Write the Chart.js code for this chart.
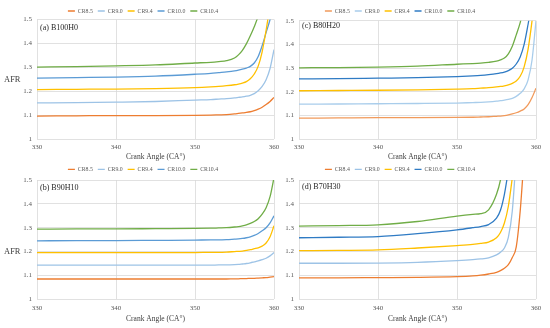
<!DOCTYPE html>
<html lang="en">
<head>
<meta charset="UTF-8">
<title>AFR vs Crank Angle</title>
<script src="https://cdn.jsdelivr.net/npm/chart.js"></script>
<style>
  body { margin: 0; background: #fff; }
  #wrap { position: relative; width: 550px; height: 328px; overflow: hidden; font-family: 'Liberation Serif', serif; }
  .panel { position: absolute; }
  .afr { position: absolute; left: 4px; font-size: 8.5px; color: #404040; line-height: 1; }
</style>
</head>
<body>
<div id="wrap">
  <canvas id="chartA" class="panel" style="left:12px;top:0" width="274" height="164"></canvas>
  <canvas id="chartB" class="panel" style="left:12px;top:160px" width="274" height="168"></canvas>
  <canvas id="chartC" class="panel" style="left:264px;top:0" width="286" height="164"></canvas>
  <canvas id="chartD" class="panel" style="left:264px;top:160px" width="286" height="168"></canvas>
  <span class="afr" style="top:75px">AFR</span>
  <span class="afr" style="top:247px">AFR</span>
</div>

<script>
  // crank angle samples (CA°), shared by every curve
  const angles = [330, 335, 340, 345, 350, 352, 353, 354, 355, 355.5, 356, 356.5, 357, 357.5, 358, 358.5, 359, 359.5, 360];
  const xTicks = [330, 340, 350, 360];
  const yTickLabels = ['1', '1.1', '1.2', '1.3', '1.4', '1.5'];

  const namesABC = ['CR8.5', 'CR9.0', 'CR9.4', 'CR10.0', 'CR10.4'];
  const namesD = ['CR8.4', 'CR9.0', 'CR9.4', 'CR10.0', 'CR10.4'];

  // (a) B100H0
  const a85 = [1.096, 1.097, 1.098, 1.098, 1.099, 1.100, 1.101, 1.102, 1.105, 1.107, 1.109, 1.111, 1.114, 1.119, 1.125, 1.133, 1.144, 1.157, 1.174];
  const a90 = [1.151, 1.152, 1.154, 1.157, 1.163, 1.165, 1.167, 1.169, 1.172, 1.174, 1.176, 1.179, 1.183, 1.190, 1.202, 1.220, 1.248, 1.295, 1.374];
  const a94 = [1.207, 1.208, 1.209, 1.211, 1.215, 1.218, 1.220, 1.223, 1.227, 1.230, 1.234, 1.240, 1.252, 1.272, 1.305, 1.365, 1.455, 1.560, null];
  const a100 = [1.255, 1.257, 1.259, 1.263, 1.271, 1.275, 1.278, 1.281, 1.285, 1.288, 1.292, 1.297, 1.304, 1.318, 1.345, 1.390, 1.445, 1.500, 1.570];
  const a104 = [1.301, 1.303, 1.306, 1.310, 1.318, 1.321, 1.324, 1.328, 1.339, 1.352, 1.371, 1.398, 1.432, 1.470, 1.515, 1.580, null, null, null];

  // (b) B90H10
  const b85 = [1.085, 1.085, 1.085, 1.085, 1.085, 1.085, 1.085, 1.085, 1.086, 1.086, 1.087, 1.087, 1.088, 1.088, 1.089, 1.090, 1.091, 1.093, 1.095];
  const b90 = [1.143, 1.143, 1.143, 1.143, 1.143, 1.143, 1.144, 1.144, 1.145, 1.146, 1.148, 1.150, 1.153, 1.157, 1.161, 1.166, 1.172, 1.182, 1.196];
  const b94 = [1.196, 1.196, 1.196, 1.196, 1.196, 1.197, 1.197, 1.198, 1.200, 1.201, 1.202, 1.205, 1.208, 1.212, 1.216, 1.223, 1.236, 1.262, 1.308];
  const b100 = [1.245, 1.246, 1.246, 1.247, 1.248, 1.249, 1.249, 1.250, 1.252, 1.253, 1.255, 1.258, 1.262, 1.268, 1.276, 1.287, 1.300, 1.320, 1.350];
  const b104 = [1.294, 1.295, 1.295, 1.296, 1.297, 1.298, 1.299, 1.300, 1.303, 1.305, 1.308, 1.312, 1.318, 1.326, 1.338, 1.357, 1.384, 1.430, 1.510];

  // (c) B80H20
  const c85 = [1.088, 1.089, 1.090, 1.090, 1.091, 1.092, 1.093, 1.094, 1.096, 1.097, 1.099, 1.102, 1.106, 1.111, 1.118, 1.127, 1.145, 1.175, 1.215];
  const c90 = [1.147, 1.148, 1.149, 1.150, 1.152, 1.154, 1.155, 1.157, 1.160, 1.162, 1.164, 1.167, 1.172, 1.180, 1.193, 1.212, 1.250, 1.334, 1.500];
  const c94 = [1.204, 1.205, 1.206, 1.208, 1.211, 1.213, 1.215, 1.217, 1.220, 1.222, 1.225, 1.229, 1.235, 1.245, 1.265, 1.305, 1.380, 1.500, 1.650];
  const c100 = [1.254, 1.255, 1.257, 1.259, 1.264, 1.267, 1.269, 1.272, 1.276, 1.279, 1.283, 1.289, 1.299, 1.317, 1.347, 1.400, 1.485, 1.580, null];
  const c104 = [1.301, 1.302, 1.304, 1.308, 1.316, 1.319, 1.321, 1.324, 1.329, 1.334, 1.342, 1.360, 1.392, 1.440, 1.492, 1.560, null, null, null];

  // (d) B70H30
  const d84 = [1.090, 1.090, 1.091, 1.092, 1.095, 1.098, 1.101, 1.106, 1.113, 1.120, 1.130, 1.145, 1.175, 1.220, 1.370, 1.600, null, null, null];
  const d90 = [1.151, 1.151, 1.152, 1.155, 1.162, 1.166, 1.169, 1.174, 1.186, 1.197, 1.215, 1.260, 1.370, 1.600, null, null, null, null, null];
  const d94 = [1.204, 1.205, 1.207, 1.215, 1.225, 1.230, 1.234, 1.240, 1.258, 1.280, 1.320, 1.390, 1.510, 1.650, null, null, null, null, null];
  const d100 = [1.258, 1.260, 1.263, 1.275, 1.291, 1.300, 1.305, 1.313, 1.340, 1.373, 1.440, 1.540, null, null, null, null, null, null, null];
  const d104 = [1.307, 1.309, 1.312, 1.326, 1.349, 1.356, 1.359, 1.375, 1.440, 1.500, 1.600, null, null, null, null, null, null, null, null];

  const colorsAB = ['#ED7D31', '#9DC3E6', '#FFC000', '#5B9BD5', '#70AD47'];
  const colorsC = ['#F19A5B', '#A9CDEB', '#FFC000', '#2F7BC4', '#70AD47'];
  const colorsD = ['#ED7D31', '#9DC3E6', '#FFC000', '#2F7BC4', '#70AD47'];

  const serif = "'Liberation Serif', 'Times New Roman', serif";

  // writes "(a) B100H0" etc. in the top-left corner of the plot
  const panelLabel = {
    id: 'panelLabel',
    afterDatasetsDraw(chart, args, opts) {
      const { ctx, chartArea } = chart;
      ctx.save();
      ctx.font = '8px ' + serif;
      ctx.fillStyle = '#262626';
      ctx.textBaseline = 'middle';
      ctx.fillText(opts.text, chartArea.left + 3, chartArea.top + opts.dy);
      ctx.restore();
    }
  };

  function makeChart(id, p) {
    const datasets = p.series.map((vals, i) => ({
      label: p.names[i],
      data: angles.map((a, k) => ({ x: a, y: vals[k] })),
      borderColor: p.colors[i],
      backgroundColor: p.colors[i],
      borderWidth: 1.3,
      pointRadius: 0,
      cubicInterpolationMode: 'monotone',
      spanGaps: false
    }));

    new Chart(document.getElementById(id), {
      type: 'line',
      data: { datasets: datasets },
      plugins: [panelLabel],
      options: {
        responsive: false,
        animation: false,
        devicePixelRatio: 1,
        layout: { padding: { top: p.padTop, right: p.padRight, left: 0, bottom: 0 } },
        plugins: {
          tooltip: { enabled: false },
          panelLabel: { text: p.label, dy: p.labelDy },
          legend: {
            position: 'top',
            maxHeight: p.legendH,
            labels: {
              usePointStyle: true,
              pointStyle: 'line',
              pointStyleWidth: 7,
              padding: 5,
              color: '#595959',
              font: { family: serif, size: 5.8 }
            }
          }
        },
        scales: {
          x: {
            type: 'linear',
            min: 330,
            max: 360,
            afterBuildTicks: (s) => { s.ticks = xTicks.map(v => ({ value: v })); },
            afterFit: (s) => { s.height = p.axisH; },
            ticks: { color: '#595959', font: { family: serif, size: 7 }, padding: p.tickPad, maxRotation: 0 },
            grid: { color: '#d9d9d9', lineWidth: 0.8, drawTicks: false },
            border: { display: false },
            title: {
              display: true,
              text: 'Crank Angle (CA°)',
              color: '#404040',
              font: { family: serif, size: 7.5 },
              padding: { top: 0, bottom: p.titleBottom }
            }
          },
          y: {
            min: 1,
            max: 1.5,
            ticks: {
              stepSize: 0.1,
              color: '#595959',
              font: { family: serif, size: 7 },
              padding: 5,
              callback: (v) => yTickLabels[Math.round((v - 1) * 10)]
            },
            grid: { color: '#d9d9d9', lineWidth: 0.8, drawTicks: false },
            border: { display: false },
            afterFit: (s) => { s.width = p.axisW; }
          }
        }
      }
    });
  }

  makeChart('chartA', {
    label: '(a) B100H0', names: namesABC, colors: colorsAB,
    series: [a85, a90, a94, a100, a104],
    padTop: 3.1, legendH: 16.4, padRight: 12, axisW: 25, axisH: 25,
    tickPad: 3.8, titleBottom: 2.5, labelDy: 8
  });
  makeChart('chartB', {
    label: '(b) B90H10', names: namesABC, colors: colorsAB,
    series: [b85, b90, b94, b100, b104],
    padTop: 1.4, legendH: 18.6, padRight: 12, axisW: 25, axisH: 28.7,
    tickPad: 4.8, titleBottom: 4.5, labelDy: 8
  });
  makeChart('chartC', {
    label: '(c) B80H20', names: namesABC, colors: colorsC,
    series: [c85, c90, c94, c100, c104],
    padTop: 3.1, legendH: 17.6, padRight: 14, axisW: 35, axisH: 25,
    tickPad: 3.8, titleBottom: 2.5, labelDy: 5
  });
  makeChart('chartD', {
    label: '(d) B70H30', names: namesD, colors: colorsD,
    series: [d84, d90, d94, d100, d104],
    padTop: 1.4, legendH: 18.6, padRight: 14, axisW: 35, axisH: 28.7,
    tickPad: 4.8, titleBottom: 4.5, labelDy: 7
  });
</script>
</body>
</html>
